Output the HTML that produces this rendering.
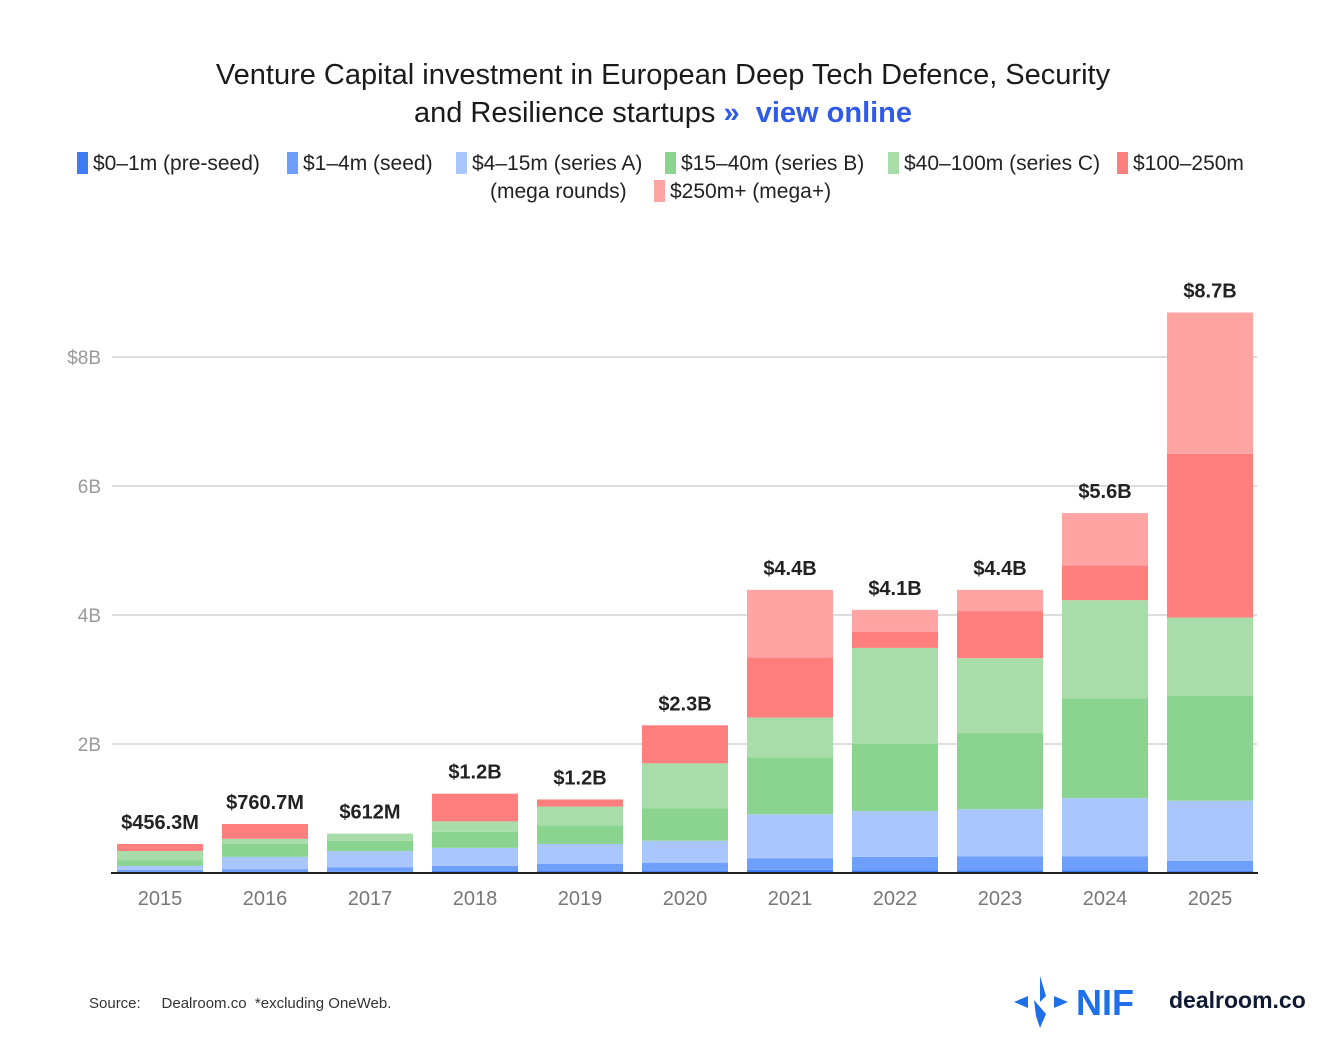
<!DOCTYPE html>
<html><head><meta charset="utf-8"><style>
body{margin:0;background:#fff;font-family:"Liberation Sans",sans-serif;}
#wrap{position:relative;width:1320px;height:1044px;overflow:hidden;}
.title{position:absolute;left:0;width:1326px;text-align:center;font-size:29px;color:#1a1a1a;}
.leg{position:absolute;font-size:21px;color:#222;white-space:nowrap;}
.sw{display:inline-block;width:11px;height:22px;vertical-align:-4px;margin-right:5px;}
</style></head><body><div id="wrap">
<div class="title" style="top:59px">Venture Capital investment in European Deep Tech Defence, Security</div>
<div class="title" style="top:97px">and Resilience startups <span style="color:#2f5be8;font-weight:bold">» &nbsp;view online</span></div>
<div id="legend"></div>
<svg id="chart" width="1320" height="1044" style="position:absolute;left:0;top:0"></svg>
<div style="position:absolute;left:89px;top:995px;font-size:15px;color:#333">Source: &nbsp;&nbsp;&nbsp;&nbsp;Dealroom.co &nbsp;*excluding OneWeb.</div>
<svg style="position:absolute;left:1010px;top:974px" width="60" height="56"><polygon points="30,2 36,22 30,28" fill="#1f6fe8"/><polygon points="24,26 36,40 30,54 26,42" fill="#1f6fe8"/><polygon points="4,28 18,22 18,34" fill="#1f6fe8"/><polygon points="44,22 58,28 44,34" fill="#1f6fe8"/></svg>
<div style="position:absolute;left:1076px;top:982px;font-size:36px;font-weight:bold;color:#1f6fe8">NIF</div>
<div style="position:absolute;left:1169px;top:987px;font-size:23px;font-weight:bold;color:#111a33">dealroom.co</div>
</div>
<script>
const years=["2015","2016","2017","2018","2019","2020","2021","2022","2023","2024","2025"];
const preseed=[0.02,0.01,0.02,0.03,0.03,0.03,0.05,0.04,0.04,0.04,0.03];
const seed=[0.03,0.05,0.07,0.08,0.11,0.13,0.18,0.21,0.22,0.22,0.16];
const seriesA=[0.06,0.19,0.25,0.28,0.31,0.34,0.68,0.71,0.73,0.90,0.93];
const seriesB=[0.09,0.20,0.16,0.25,0.29,0.50,0.88,1.04,1.18,1.55,1.63];
const seriesC=[0.14,0.08,0.11,0.16,0.29,0.70,0.62,1.49,1.16,1.52,1.21];
const mega=[0.11,0.23,0,0.43,0.11,0.59,0.93,0.25,0.73,0.54,2.54];
const megaPlus=[0,0,0,0,0,0,1.05,0.34,0.33,0.81,2.19];
const totals=["$456.3M","$760.7M","$612M","$1.2B","$1.2B","$2.3B","$4.4B","$4.1B","$4.4B","$5.6B","$8.7B"];
const yTicks=[2,4,6,8];
const yTickLabels=["2B","4B","6B","$8B"];
const names=["$0–1m (pre-seed)","$1–4m (seed)","$4–15m (series A)","$15–40m (series B)","$40–100m (series C)","$100–250m (mega rounds)","$250m+ (mega+)"];
const colors=["#3f7bf4","#6e9ffd","#aac6ff","#8bd48f","#a8dda9","#ff7f7f","#ffa3a3"];
const series=[preseed,seed,seriesA,seriesB,seriesC,mega,megaPlus];
const ns="http://www.w3.org/2000/svg";
const svg=document.getElementById('chart');
const y0=873,pxPerB=64.5;
function yScale(v){return y0-v*pxPerB;}
function xCenter(i){return 160+i*105;}
function mk(t,a){const e=document.createElementNS(ns,t);for(const k in a)e.setAttribute(k,a[k]);svg.appendChild(e);return e;}
yTicks.forEach((t,i)=>{
 const g=mk('line',{x1:112,x2:1257,y1:yScale(t),y2:yScale(t),stroke:'#ddd','stroke-width':2});
 
 
 const l=mk('text',{x:101,y:yScale(t)+7,'text-anchor':'end','font-size':19,fill:'#999','font-family':'Liberation Sans'});
 l.textContent=yTickLabels[i];
 
 
});
years.forEach((yr,i)=>{
 let acc=0;
 series.forEach((s,k)=>{
  const v=s[i];if(v<=0)return;
  const r=mk('rect',{x:xCenter(i)-43,y:yScale(acc+v),width:86,height:v*pxPerB,fill:colors[k]});
  
  
  acc+=v;
 });
 const tl=mk('text',{x:xCenter(i),y:yScale(acc)-15,'text-anchor':'middle','font-size':20,'font-weight':'bold',fill:'#222','font-family':'Liberation Sans'});
 tl.textContent=totals[i];
 
 
 const xl=mk('text',{x:xCenter(i),y:905,'text-anchor':'middle','font-size':20,fill:'#777','font-family':'Liberation Sans'});
 xl.textContent=yr;
 
 
});
const ax=mk('line',{x1:111,x2:1258,y1:873,y2:873,stroke:'#222','stroke-width':2});


const leg=document.getElementById('legend');
const pos=[[77,152],[287,152],[456,152],[665,152],[888,152],[1117,152],[654,180]];
names.forEach((n,k)=>{
 const d=document.createElement('div');d.className='leg';
 
 
 d.style.left=pos[k][0]+'px';d.style.top=pos[k][1]+'px';
 let txt=n;if(k===5)txt='$100–250m';
 d.innerHTML='<span class="sw" style="background:'+colors[k]+'"></span>'+txt;
 leg.appendChild(d);
});
const m=document.createElement('div');m.className='leg';m.style.left='490px';m.style.top='180px';m.textContent='(mega rounds)';


leg.appendChild(m);
</script></body></html>
